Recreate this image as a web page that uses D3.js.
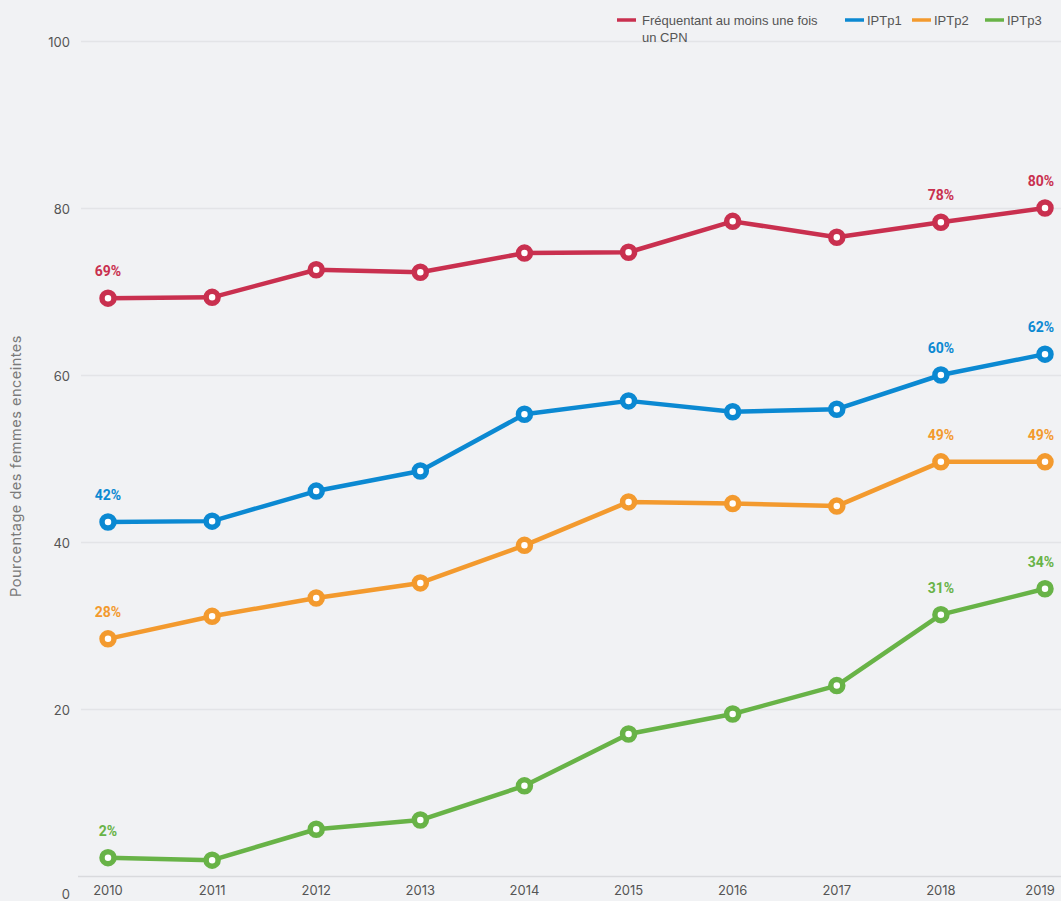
<!DOCTYPE html>
<html>
<head>
<meta charset="utf-8">
<script src="https://cdn.jsdelivr.net/npm/d3@7"></script>
<style>
  html, body { margin: 0; padding: 0; background: #f1f2f4; }
  svg { display: block; }
</style>
</head>
<body>
<div id="chart"></div>
<script>
// data
var years = [2010, 2011, 2012, 2013, 2014, 2015, 2016, 2017, 2018, 2019];
var cpn   = [69.2, 69.3, 72.6, 72.3, 74.6, 74.7, 78.4, 76.5, 78.3, 80.0];
var iptp1 = [42.4, 42.5, 46.1, 48.5, 55.3, 56.9, 55.6, 55.9, 60.0, 62.5];
var iptp2 = [28.4, 31.1, 33.3, 35.1, 39.6, 44.8, 44.6, 44.3, 49.6, 49.6];
var iptp3 = [2.2, 1.9, 5.6, 6.7, 10.8, 17.0, 19.4, 22.8, 31.3, 34.4];
var yTicks = [0, 20, 40, 60, 80, 100];
var labelled = [2010, 2018, 2019];

var series = [
  {name: "Fréquentant au moins une fois un CPN", values: cpn, color: "#c9304f"},
  {name: "IPTp1", values: iptp1, color: "#0b89d2"},
  {name: "IPTp2", values: iptp2, color: "#f39a2e"},
  {name: "IPTp3", values: iptp3, color: "#68b347"}
];

var W = 1061, H = 901;
var margin = {top: 41, right: 16, bottom: 25, left: 108};

var svg = d3.select("#chart")
  .append("svg")
  .attr("width", W)
  .attr("height", H);

var x = d3.scalePoint()
  .domain(years)
  .range([margin.left, W - margin.right]);

var y = d3.scaleLinear()
  .domain([0, 100])
  .range([H - margin.bottom, margin.top]);

// gridlines
svg.append("g")
  .selectAll("line")
  .data(yTicks)
  .enter()
  .append("line")
    .attr("x1", function(d) { return d == 0 ? 78 : 81; })
    .attr("x2", W)
    .attr("y1", function(d) { return Math.round(y(d)) + 0.5; })
    .attr("y2", function(d) { return Math.round(y(d)) + 0.5; })
    .attr("stroke", function(d) { return d == 0 ? "#d9dadd" : "#e3e4e7"; })
    .attr("stroke-width", 1.3);

// y tick labels
svg.append("g")
  .selectAll("text")
  .data(yTicks)
  .enter()
  .append("text")
    .attr("x", 70)
    .attr("y", function(d) { return d == 0 ? y(d) + 18 : y(d) + 1; })
    .attr("dy", "0.35em")
    .attr("text-anchor", "end")
    .style("font-family", "Inter, 'Noto Sans', sans-serif")
    .style("font-size", "13px")
    .style("fill", "#555")
    .text(function(d) { return d; });

// x tick labels
svg.append("g")
  .selectAll("text")
  .data(years)
  .enter()
  .append("text")
    .attr("x", function(d) { return d == 2019 ? x(d) - 5 : x(d); })
    .attr("y", H - 11)
    .attr("dy", "0.35em")
    .attr("text-anchor", "middle")
    .style("font-family", "Inter, 'Noto Sans', sans-serif")
    .style("font-size", "13px")
    .style("fill", "#555")
    .text(function(d) { return d; });

// y axis title
svg.append("text")
  .attr("transform", "translate(21," + 466 + ") rotate(-90)")
  .attr("text-anchor", "middle")
  .style("font-family", "Inter, 'Noto Sans', sans-serif")
  .style("font-size", "14.5px")
  .style("letter-spacing", "0.5px")
  .style("fill", "#7a7a7a")
  .text("Pourcentage des femmes enceintes");

var line = d3.line()
  .x(function(d, i) { return x(years[i]); })
  .y(function(d) { return y(d); });

var g = svg.selectAll(".serie")
  .data(series)
  .enter()
  .append("g")
  .attr("class", "serie");

g.append("path")
  .attr("d", function(s) { return line(s.values); })
  .attr("fill", "none")
  .attr("stroke", function(s) { return s.color; })
  .attr("stroke-width", 4.5)
  .attr("stroke-linejoin", "round");

g.each(function(s) {
  var sel = d3.select(this);
  sel.selectAll("circle")
    .data(s.values)
    .enter()
    .append("circle")
      .attr("cx", function(d, i) { return x(years[i]); })
      .attr("cy", function(d) { return y(d); })
      .attr("r", 6)
      .attr("fill", "#fff")
      .attr("stroke", s.color)
      .attr("stroke-width", 5.5);

  sel.selectAll("text")
    .data(s.values.map(function(v, i) { return {v: v, year: years[i]}; })
      .filter(function(d) { return labelled.indexOf(d.year) >= 0; }))
    .enter()
    .append("text")
      .attr("x", function(d) { return d.year == 2019 ? x(d.year) - 4 : x(d.year); })
      .attr("y", function(d) { return y(d.v) - 22; })
      .attr("text-anchor", "middle")
      .style("font-family", "Roboto, sans-serif")
      .style("font-weight", "bold")
      .style("font-size", "14px")
      .style("fill", s.color)
      .text(function(d) { return Math.floor(d.v) + "%"; });
});

// legend
var legend = [
  {label: ["Fréquentant au moins une fois", "un CPN"], x: 617, color: series[0].color},
  {label: ["IPTp1"], x: 845, color: series[1].color},
  {label: ["IPTp2"], x: 912, color: series[2].color},
  {label: ["IPTp3"], x: 985, color: series[3].color}
];

var lg = svg.append("g")
  .selectAll("g")
  .data(legend)
  .enter()
  .append("g")
  .attr("transform", function(d) { return "translate(" + d.x + ",20)"; });

lg.append("line")
  .attr("x1", 0).attr("x2", 19)
  .attr("y1", 0).attr("y2", 0)
  .attr("stroke", function(d) { return d.color; })
  .attr("stroke-width", 3.5);

lg.append("text")
  .attr("x", function(d, i) { return i == 0 ? 25 : 22; })
  .attr("y", 0)
  .style("font-family", "'Liberation Sans', Arial, sans-serif")
  .style("font-size", "13px")
  .style("fill", "#555")
  .selectAll("tspan")
  .data(function(d) { return d.label; })
  .enter()
  .append("tspan")
    .attr("x", function() { return d3.select(this.parentNode).attr("x"); })
    .attr("dy", function(d, i) { return i == 0 ? "0.35em" : "17px"; })
    .text(function(d) { return d; });
</script>
</body>
</html>
